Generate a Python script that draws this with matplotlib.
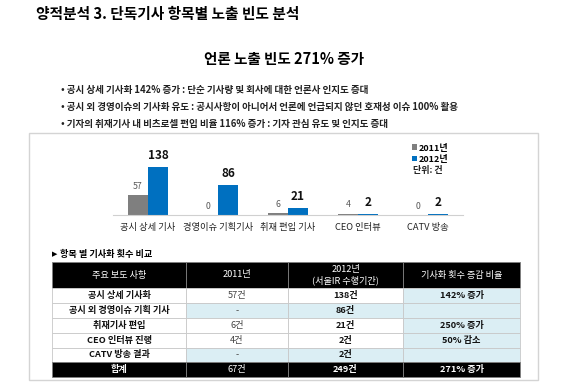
import matplotlib
matplotlib.use("Agg")
import matplotlib.pyplot as plt
from matplotlib.patches import Rectangle
import numpy as np

plt.rcParams['font.family'] = ['Noto Sans CJK KR', 'DejaVu Sans']

# chart data
categories = ['공시 상세 기사', '경영이슈 기획기사', '취재 편입 기사', 'CEO 인터뷰', 'CATV 방송']
v2011 = [57, 0, 6, 4, 0]
v2012 = [138, 86, 21, 2, 2]

title = '양적분석 3. 단독기사 항목별 노출 빈도 분석'
subtitle = '언론 노출 빈도 271% 증가'
bullets = [
    '• 공시 상세 기사화 142% 증가 : 단순 기사량 및 회사에 대한 언론사 인지도 증대',
    '• 공시 외 경영이슈의 기사화 유도 : 공시사항이 아니어서 언론에 언급되지 않던 호재성 이슈 100% 활용',
    '• 기자의 취재기사 내 비츠로셀 편입 비율 116% 증가 : 기자 관심 유도 및 인지도 증대',
]

# table data
tbl_header = ['주요 보도 사항', '2011년', '2012년\n(서울IR 수행기간)', '기사화 횟수 증감 비율']
tbl_items = ['공시 상세 기사화', '공시 외 경영이슈 기획 기사', '취재기사 편입', 'CEO 인터뷰 진행', 'CATV 방송 결과']
tbl_2011 = ['57건', '-', '6건', '4건', '-']
tbl_2012 = ['138건', '86건', '21건', '2건', '2건']
tbl_ratio = ['142% 증가', '', '250% 증가', '50% 감소', '']
tbl_total = ['합계', '67건', '249건', '271% 증가']

GREY = '#7f7f7f'
BLUE = '#0070c0'
LBLUE = '#dbeef4'

fig = plt.figure(figsize=(5.67, 3.82), dpi=100)
bg = fig.add_axes([0, 0, 1, 1])
bg.set_xlim(0, 567)
bg.set_ylim(382, 0)
bg.axis('off')

bg.text(36, 14, title, fontsize=10.6, fontweight='bold', va='center', ha='left')
bg.text(284, 59, subtitle, fontsize=10.5, fontweight='bold', va='center', ha='center')
for i, b in enumerate(bullets):
    bg.text(61, 90 + i * 17, b, fontsize=6.9, fontweight='bold', va='center', ha='left', color='#222222')

# frame
bg.add_patch(Rectangle((29, 133), 509, 247, fill=False, ec='#d4d4d4', lw=1))

# bar chart
ax = fig.add_axes([113 / 567, (382 - 215) / 382, 350 / 567, 75 / 382])
x = np.arange(len(categories))
w = 0.2857
b1 = ax.bar(x - w / 2, v2011, w, color=GREY, label='2011년')
b2 = ax.bar(x + w / 2, v2012, w, color=BLUE, label='2012년')
ax.set_xlim(-0.5, 4.5)
ax.set_ylim(0, 75 / 0.35)
for s in ['top', 'right', 'left']:
    ax.spines[s].set_visible(False)
ax.spines['bottom'].set_color('#d0d0d0')
ax.set_yticks([])
ax.set_xticks(x)
ax.set_xticklabels(categories, fontsize=6.7, color='#222222')
ax.tick_params(axis='x', length=0, pad=6)
ax.patch.set_alpha(0)

for xi, v in zip(x, v2011):
    ax.annotate(str(v), (xi - w / 2, v), xytext=(0, 3), textcoords='offset points',
                ha='center', va='bottom', fontsize=6.3, color='#595959')
for xi, v in zip(x, v2012):
    ax.annotate(str(v), (xi + w / 2, v), xytext=(0, 3.5), textcoords='offset points',
                ha='center', va='bottom', fontsize=8.5, fontweight='bold', color='#111111')

ax.legend(handles=[b1, b2], loc='upper left', bbox_to_anchor=(407 / 567, 1 - 139 / 382),
          bbox_transform=fig.transFigure, frameon=False,
          handlelength=0.6, handleheight=0.6, handletextpad=0.2, labelspacing=0.25,
          borderpad=0, prop={'weight': 'bold', 'size': 6.5})
bg.text(428, 171, '단위: 건', fontsize=6.5, fontweight='bold', ha='center', va='center', color='#222222')

# table
bg.text(52, 254, '▶', fontsize=5, va='center', ha='left', family='DejaVu Sans')
bg.text(60, 254, '항목 별 기사화 횟수 비교', fontsize=6.6, fontweight='bold', va='center', ha='left')

cols = [52, 186, 288, 403, 520]
rows = [262, 288, 303, 318, 333, 348, 362, 377]

body = list(zip(tbl_items, tbl_2011, tbl_2012, tbl_ratio))
fills = [
    ['white', 'white', 'white', LBLUE],
    ['white', LBLUE, LBLUE, LBLUE],
    ['white', 'white', 'white', LBLUE],
    ['white', 'white', 'white', LBLUE],
    ['white', LBLUE, LBLUE, LBLUE],
]
weights = ['bold', 'normal', 'bold', 'bold']
tcolors = ['#111111', '#444444', '#111111', '#111111']

def cell(ci, ri, txt, fc, color, weight, ec, size=6.6):
    x0, x1 = cols[ci], cols[ci + 1]
    y0, y1 = rows[ri], rows[ri + 1]
    bg.add_patch(Rectangle((x0, y0), x1 - x0, y1 - y0, fc=fc, ec=ec, lw=0.6))
    bg.text((x0 + x1) / 2, (y0 + y1) / 2, txt, ha='center', va='center', fontsize=size,
            color=color, fontweight=weight, linespacing=1.1)

for ci, h in enumerate(tbl_header):
    cell(ci, 0, h, 'black', 'white', 'normal', '#808080', 6.6)
for ri, r in enumerate(body):
    for ci, t in enumerate(r):
        cell(ci, ri + 1, t, fills[ri][ci], tcolors[ci], weights[ci], '#c8c8c8')
for ci, t in enumerate(tbl_total):
    cell(ci, 6, t, 'black', 'white', weights[ci], '#808080')

fig.savefig('out.png', dpi=100)
